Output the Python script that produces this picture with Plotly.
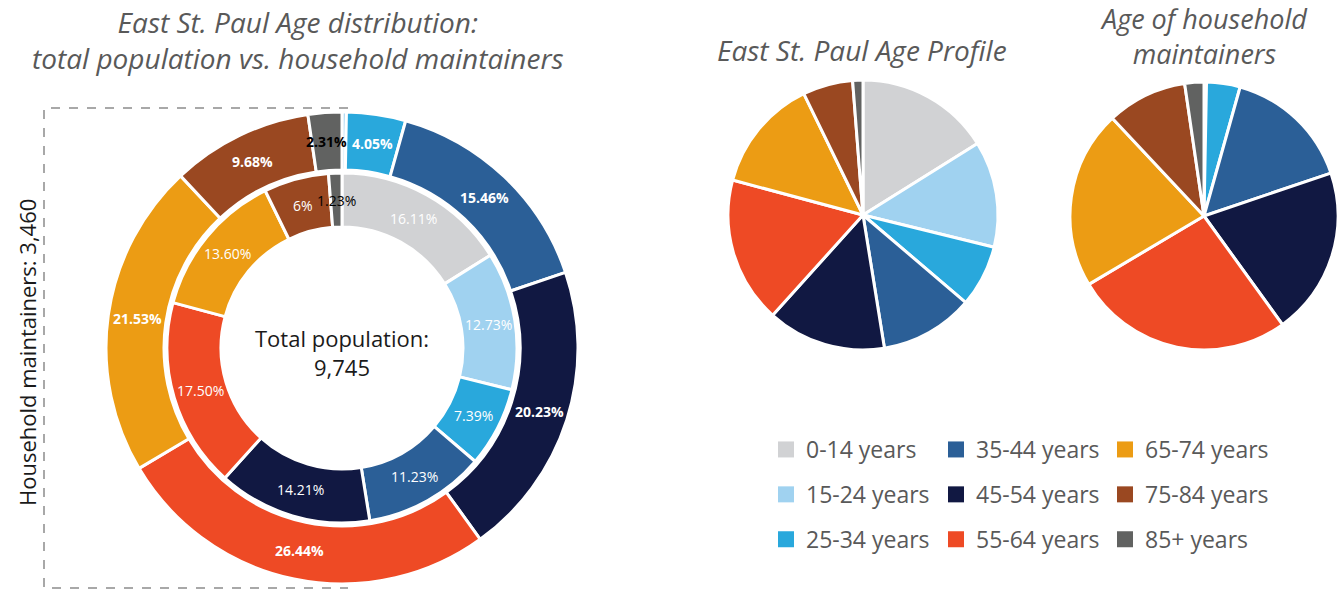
import math
import plotly.graph_objects as go

# ---------------- data ----------------
age_groups = ["0-14 years", "15-24 years", "25-34 years", "35-44 years", "45-54 years",
              "55-64 years", "65-74 years", "75-84 years", "85+ years"]
age_colors = ["#D1D2D4", "#A0D2F0", "#29A8DC", "#2B5F97", "#111842",
              "#EE4A25", "#EC9C14", "#9A4821", "#616261"]
population_pct = [16.11, 12.73, 7.39, 11.23, 14.21, 17.50, 13.60, 6.00, 1.23]
maintainer_pct = [0.00, 0.30, 4.05, 15.46, 20.23, 26.44, 21.53, 9.68, 2.31]
population_text = ["16.11%", "12.73%", "7.39%", "11.23%", "14.21%", "17.50%", "13.60%", "6%", "1.23%"]
maintainer_text = ["", "", "4.05%", "15.46%", "20.23%", "26.44%", "21.53%", "9.68%", "2.31%"]
population_text_color = ["white"] * 8 + ["black"]
maintainer_text_color = ["white"] * 8 + ["black"]
total_population = "9,745"
household_maintainers = "3,460"

# legend columns (column-major as in the reference)
legend_columns = [age_groups[0:3], age_groups[3:6], age_groups[6:9]]

# ---------------- layout geometry (pixels) ----------------
W, H = 1339, 589
FONT = "'Open Sans', Lato, sans-serif"
GREY = "#595959"

donut_c = (342, 348)
outer_r, outer_in = 236, 178
inner_r, inner_in = 175, 121
pie1_c, pie1_r = (863, 215), 135
pie2_c, pie2_r = (1204, 216), 134


def dom(c, r):
    return dict(x=[(c[0] - r) / W, (c[0] + r) / W],
                y=[1 - (c[1] + r) / H, 1 - (c[1] - r) / H])


def px(x, y):
    return x / W, 1 - y / H


fig = go.Figure()

common = dict(sort=False, direction="clockwise", rotation=0, textinfo="none",
              showlegend=False, labels=age_groups,
              marker=dict(colors=age_colors, line=dict(color="white", width=3)))

fig.add_trace(go.Pie(values=maintainer_pct, hole=outer_in / outer_r,
                     domain=dom(donut_c, outer_r), name="Household maintainers", **common))
fig.add_trace(go.Pie(values=population_pct, hole=inner_in / inner_r,
                     domain=dom(donut_c, inner_r), name="Total population", **common))
fig.add_trace(go.Pie(values=population_pct, domain=dom(pie1_c, pie1_r),
                     name="East St. Paul Age Profile", **common))
fig.add_trace(go.Pie(values=maintainer_pct, domain=dom(pie2_c, pie2_r),
                     name="Age of household maintainers", **common))

# legend entries (three vertical legends)
legend_names = ["legend", "legend2", "legend3"]
for li, col in enumerate(legend_columns):
    for lab in col:
        fig.add_trace(go.Scatter(x=[None], y=[None], mode="markers", name=lab,
                                 marker=dict(symbol="square", size=17,
                                             color=age_colors[age_groups.index(lab)]),
                                 legend=legend_names[li], legendgroup=lab,
                                 hoverinfo="skip"))

annotations = []


def note(x, y, text, size, color, angle=0):
    xp, yp = px(x, y)
    annotations.append(dict(x=xp, y=yp, xref="paper", yref="paper", showarrow=False,
                            xanchor="center", yanchor="middle", textangle=angle,
                            text=text, font=dict(family=FONT, size=size, color=color)))


def ring_labels(vals, texts, colors, r_mid, bold, size):
    total = sum(vals)
    cum = 0.0
    for v, t, c in zip(vals, texts, colors):
        mid = (cum + v / 2) / total * 2 * math.pi
        cum += v
        if not t:
            continue
        x = donut_c[0] + r_mid * math.sin(mid)
        y = donut_c[1] - r_mid * math.cos(mid)
        note(x, y, f"<b>{t}</b>" if bold else t, size, c)


ring_labels(maintainer_pct, maintainer_text, maintainer_text_color, (outer_r + outer_in) / 2, True, 14)
ring_labels(population_pct, population_text, population_text_color, (inner_r + inner_in) / 2, False, 14)

# centre text
note(donut_c[0], donut_c[1] + 4, f"Total population:<br>{total_population}", 22, "#1a1a1a")

# titles
note(298, 40, "<i>East St. Paul Age distribution:<br>total population vs. household maintainers</i>", 28, GREY)
note(862, 50, "<i>East St. Paul Age Profile</i>", 28, GREY)
note(1204, 36, "<i>Age of household<br>maintainers</i>", 27, GREY)

# rotated side label
note(27, 353, f"Household maintainers: {household_maintainers}", 22, "#1a1a1a", angle=-90)

# dashed bracket (top, left, bottom)
x0, y0 = px(44, 108)
x1, y1 = px(348, 588)
shapes = [dict(type="path", xref="paper", yref="paper",
               path=f"M {x1} {y0} L {x0} {y0} L {x0} {y1} L {x1} {y1}",
               line=dict(color="#8c8c8c", width=1.5, dash="dash"))]

legend_x = [766, 936, 1105]
leg = {}
for li, name in enumerate(legend_names):
    lx, ly = px(legend_x[li], 428)
    leg[name] = dict(x=lx, y=ly, xanchor="left", yanchor="top", orientation="v",
                     bgcolor="rgba(0,0,0,0)", tracegroupgap=12, itemclick=False,
                     itemdoubleclick=False,
                     font=dict(family=FONT, size=23, color=GREY))

fig.update_layout(width=W, height=H, margin=dict(l=0, r=0, t=0, b=0),
                  paper_bgcolor="white", plot_bgcolor="white",
                  xaxis=dict(visible=False), yaxis=dict(visible=False),
                  annotations=annotations, shapes=shapes, **leg)

fig.write_html("out.html", config={"displayModeBar": False},
               post_script="document.body.style.margin='0px';")
